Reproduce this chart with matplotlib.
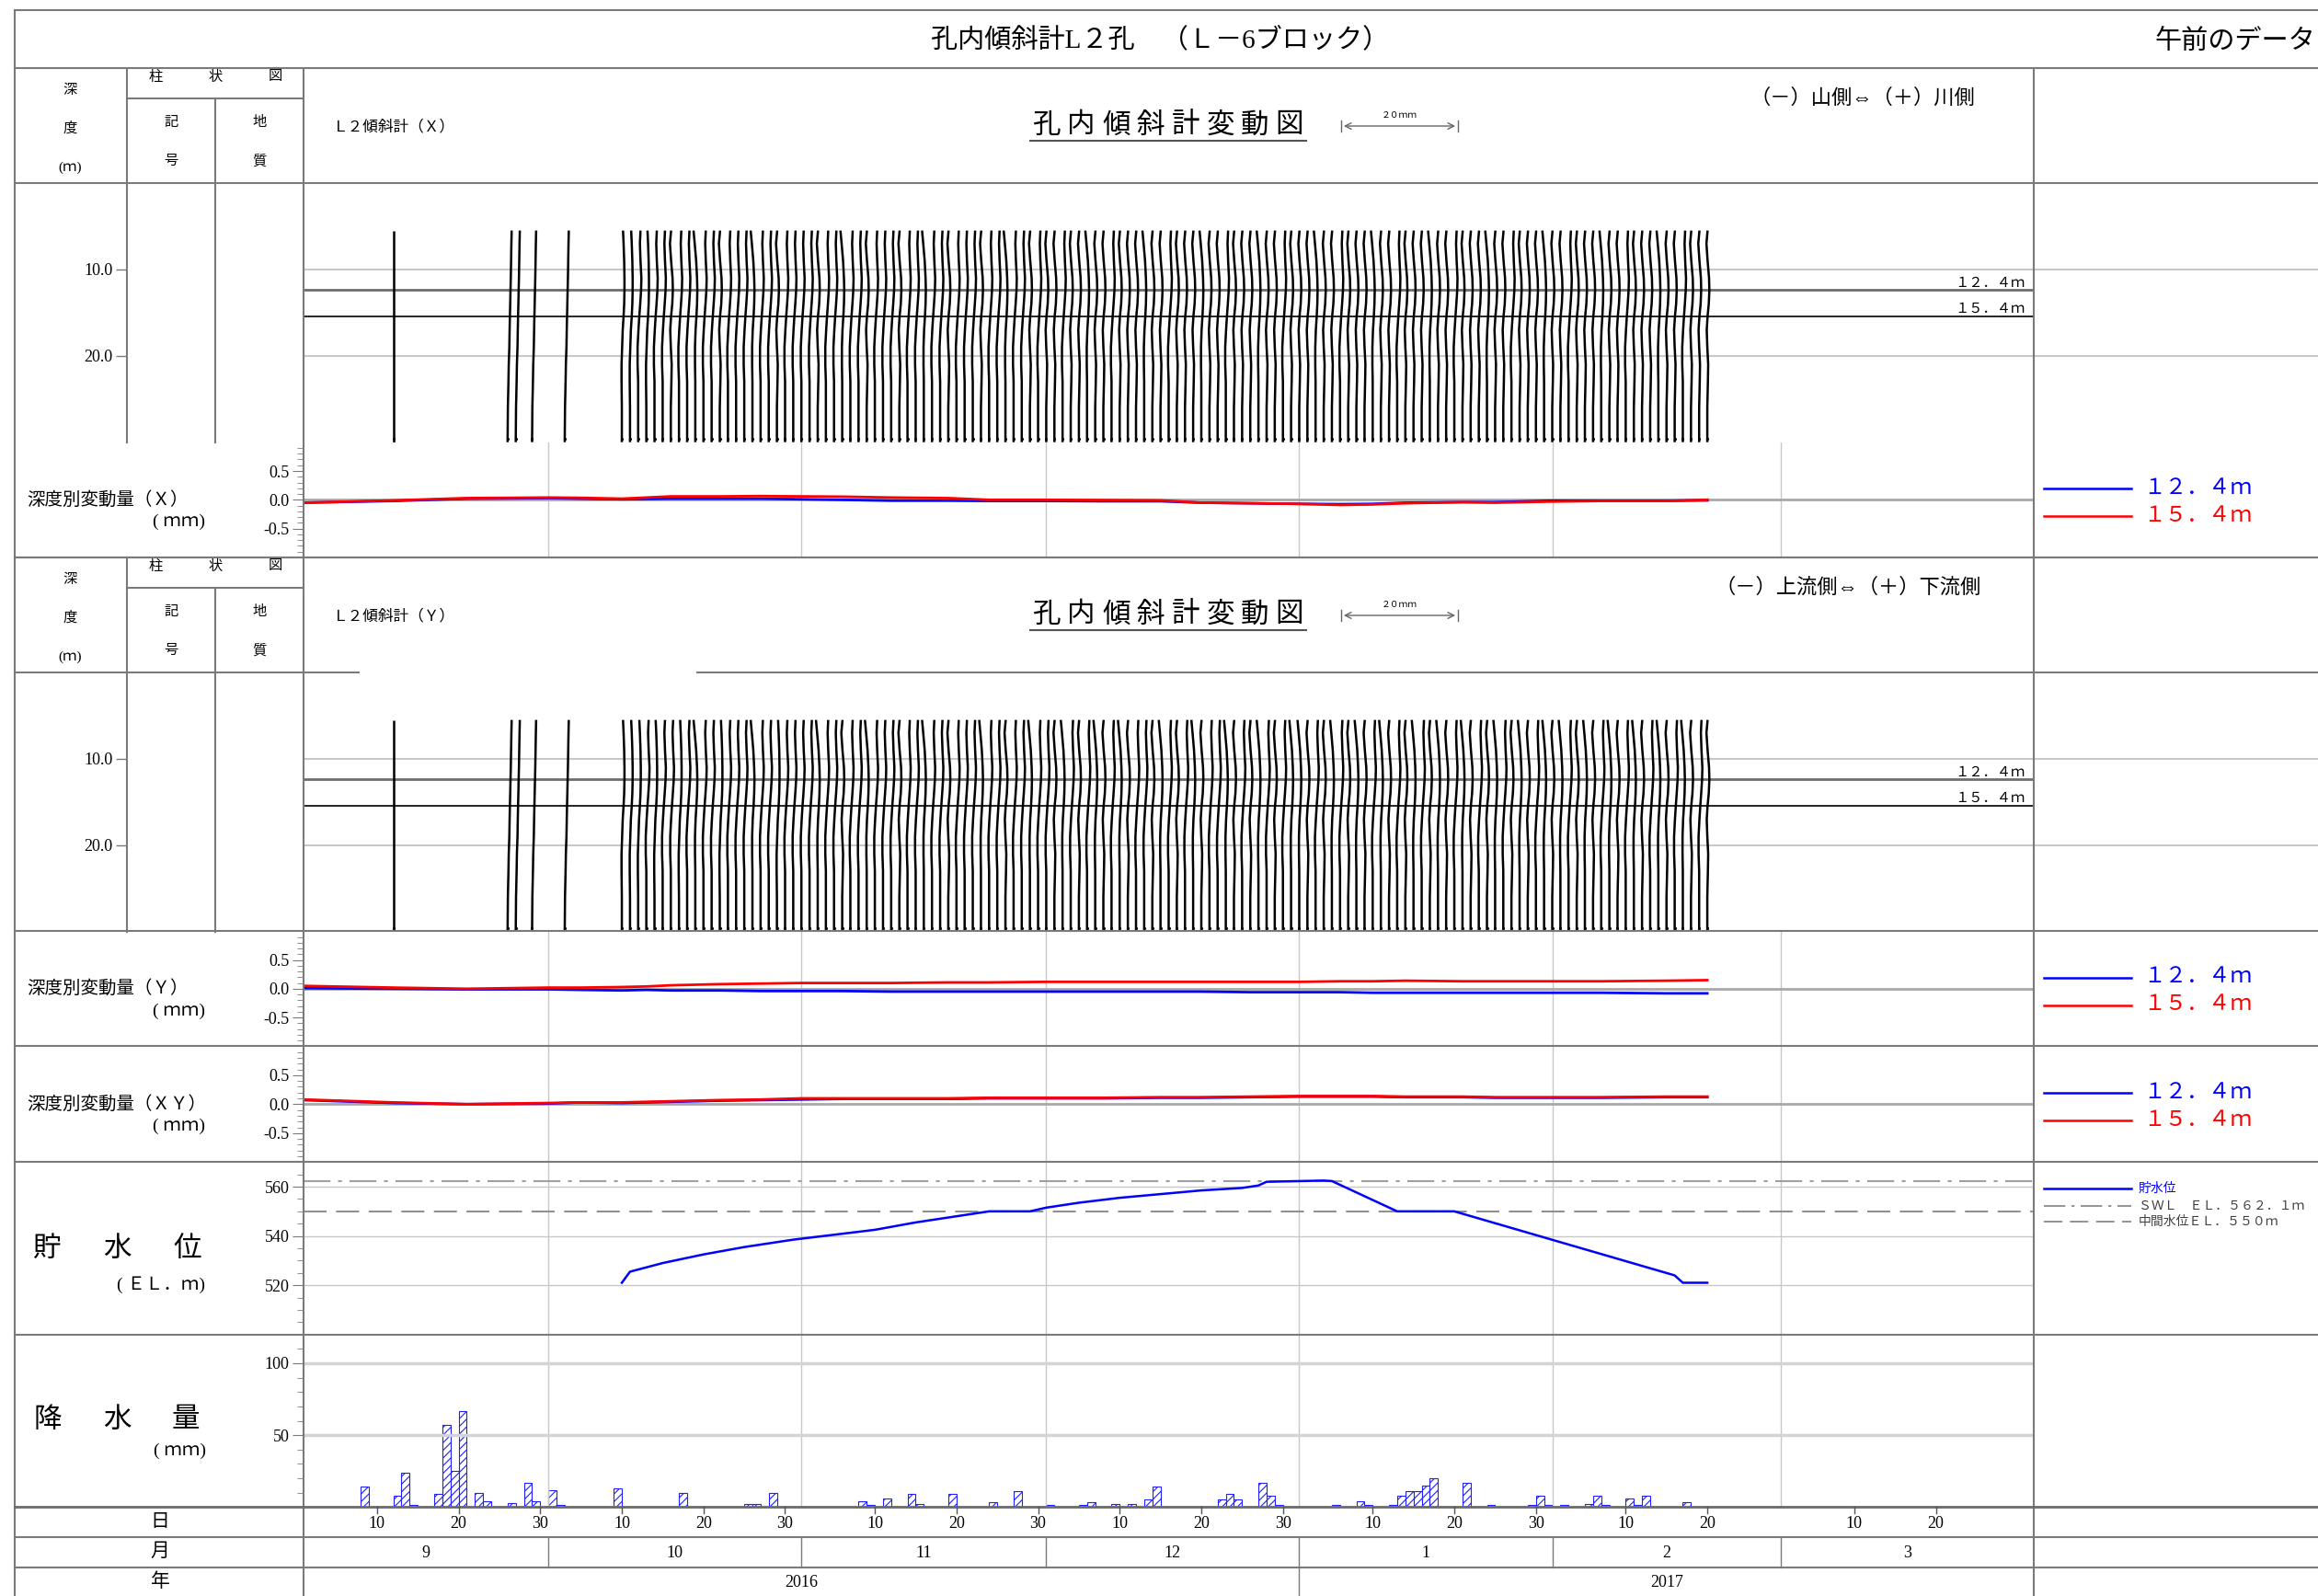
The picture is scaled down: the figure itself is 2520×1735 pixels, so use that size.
import matplotlib
matplotlib.use('Agg')
import matplotlib.pyplot as plt
import matplotlib.dates as mdates
import matplotlib.transforms as mtransforms
from matplotlib.lines import Line2D
from matplotlib.patches import FancyArrowPatch
import numpy as np
import pandas as pd

plt.rcParams['font.family'] = ['Liberation Serif', 'Noto Sans CJK JP', 'DejaVu Sans']
plt.rcParams['hatch.linewidth'] = 0.8

# ---------------- data ----------------
depth_nodes = [5.5, 7.0, 9.0, 11.0, 12.4, 14.0, 15.4, 17.0, 19.0, 21.0, 23.0, 26.0, 30.0]

# profile shapes (mm offsets at each depth node)
shapes = {
    'O': [0.0, 0.0, 0.0, 0.0, 0.0, 0.0, 0.0, 0.0, 0.0, 0.0, 0.0, 0.0, 0.0],
    'L': [0.7, 0.65, 0.6, 0.55, 0.5, 0.45, 0.4, 0.35, 0.3, 0.2, 0.15, 0.05, 0.0],
    'A': [0.2, 0.3, 0.4, 0.45, 0.45, 0.4, 0.3, 0.15, 0.05, -0.05, -0.05, 0.0, 0.0],
    'B': [0.4, 0.3, 0.4, 0.55, 0.5, 0.35, 0.2, 0.05, -0.1, -0.1, 0.0, 0.0, 0.0],
    'C': [0.05, -0.15, 0.05, 0.3, 0.35, 0.25, 0.05, -0.1, 0.0, 0.15, 0.1, 0.0, 0.0],
    'D': [-0.3, -0.1, 0.15, 0.3, 0.35, 0.3, 0.2, 0.05, -0.05, -0.05, 0.0, 0.0, 0.0],
}

early_dates = ['2016-09-12', '2016-09-26', '2016-09-27', '2016-09-29', '2016-10-03']
daily_dates = pd.date_range('2016-10-10', '2017-02-20', freq='D')
profile_dates = list(pd.to_datetime(early_dates)) + list(daily_dates)

x_shape_seq = ("OLLLL"
               "AABABBCBBDBBCBBBDBBCBB"
               "BBCBBDBBCBBBCBBDBBCBBBCBBDBBCB"
               "CCBCCDCCBCCCDCCBCCCDCCBCCCDCCBC"
               "CCDCCBCCCDCCBCCCDCCBCCCDCCBCCCD"
               "CCBCCCDCCBCCCDCCBCCC")
y_shape_seq = ("OLLLL"
               "AAABABBABDBBABBBDBBABB"
               "BBDBBCBBDBBBCBBDBBCBBBDBBCBBDB"
               "BCDBCBDCBDCBBCDBCBDCBBDCBCDBCBD"
               "DCBCDBCDCBDCBCDBCDCBDCBCDBCDCBD"
               "CDBCDCBDCBDCBDCBDCBC")

# depth-wise displacement time series (mm)
ts_dates = ['2016-09-01', '2016-09-12', '2016-09-21', '2016-10-01', '2016-10-05', '2016-10-10',
            '2016-10-13', '2016-10-16', '2016-10-22', '2016-10-27', '2016-11-01', '2016-11-06',
            '2016-11-12', '2016-11-19', '2016-11-24', '2016-12-01', '2016-12-08', '2016-12-15',
            '2016-12-20', '2016-12-26', '2017-01-01', '2017-01-06', '2017-01-10', '2017-01-14',
            '2017-01-21', '2017-01-25', '2017-02-01', '2017-02-07', '2017-02-15', '2017-02-20']
x_12 = [-0.05, -0.02, 0.02, 0.03, 0.02, 0.01, 0.015, 0.02, 0.02, 0.02, 0.01, 0.0,
        -0.015, -0.015, -0.02, -0.02, -0.025, -0.025, -0.05, -0.06, -0.07, -0.075, -0.07, -0.05,
        -0.04, -0.04, -0.015, -0.015, -0.015, -0.01]
x_15 = [-0.05, -0.01, 0.03, 0.04, 0.035, 0.02, 0.04, 0.06, 0.06, 0.065, 0.06, 0.055,
        0.04, 0.03, 0.0, 0.0, -0.005, -0.01, -0.05, -0.06, -0.07, -0.09, -0.08, -0.06,
        -0.04, -0.05, -0.03, -0.02, -0.02, 0.0]
y_12 = [0.01, 0.0, -0.01, -0.01, -0.02, -0.03, -0.02, -0.03, -0.03, -0.04, -0.04, -0.04,
        -0.05, -0.05, -0.05, -0.05, -0.05, -0.05, -0.05, -0.06, -0.06, -0.06, -0.07, -0.07,
        -0.07, -0.07, -0.07, -0.07, -0.08, -0.08]
y_15 = [0.05, 0.02, 0.0, 0.02, 0.02, 0.03, 0.04, 0.06, 0.08, 0.09, 0.10, 0.10,
        0.10, 0.11, 0.11, 0.12, 0.12, 0.12, 0.12, 0.12, 0.12, 0.13, 0.13, 0.14,
        0.13, 0.13, 0.13, 0.13, 0.14, 0.15]
xy_12 = [0.07, 0.02, 0.0, 0.01, 0.03, 0.02, 0.03, 0.04, 0.06, 0.07, 0.08, 0.09,
         0.09, 0.09, 0.10, 0.10, 0.10, 0.11, 0.11, 0.12, 0.13, 0.13, 0.13, 0.12,
         0.12, 0.11, 0.11, 0.11, 0.12, 0.12]
xy_15 = [0.08, 0.03, 0.0, 0.02, 0.03, 0.03, 0.04, 0.05, 0.07, 0.08, 0.10, 0.10,
         0.10, 0.10, 0.11, 0.11, 0.11, 0.12, 0.12, 0.13, 0.14, 0.14, 0.14, 0.13,
         0.13, 0.12, 0.12, 0.12, 0.13, 0.13]

# reservoir water level (EL.m)
wl_dates = ['2016-10-10', '2016-10-11', '2016-10-15', '2016-10-20', '2016-10-25', '2016-10-31',
            '2016-11-05', '2016-11-10', '2016-11-15', '2016-11-20', '2016-11-24', '2016-11-29',
            '2016-12-01', '2016-12-05', '2016-12-10', '2016-12-15', '2016-12-20', '2016-12-25',
            '2016-12-27', '2016-12-28', '2017-01-04', '2017-01-05', '2017-01-13', '2017-01-20',
            '2017-02-16', '2017-02-17', '2017-02-20']
wl_vals = [521.0, 525.5, 529.0, 532.5, 535.5, 538.5, 540.5, 542.5, 545.5, 548.0, 550.0, 550.0,
           551.5, 553.5, 555.5, 557.0, 558.5, 559.5, 560.5, 562.0, 562.5, 562.3, 550.0, 550.0,
           524.0, 521.0, 521.0]
swl = 562.1
mid_wl = 550.0

# daily rainfall (mm)
rain_dates = ['2016-09-08', '2016-09-12', '2016-09-13', '2016-09-14', '2016-09-17', '2016-09-18',
              '2016-09-19', '2016-09-20', '2016-09-22', '2016-09-23', '2016-09-26', '2016-09-28',
              '2016-09-29', '2016-10-01', '2016-10-02', '2016-10-09', '2016-10-17', '2016-10-25',
              '2016-10-26', '2016-10-28', '2016-11-08', '2016-11-09', '2016-11-11', '2016-11-14',
              '2016-11-15', '2016-11-19', '2016-11-24', '2016-11-27', '2016-12-01', '2016-12-05',
              '2016-12-06', '2016-12-09', '2016-12-11', '2016-12-13', '2016-12-14', '2016-12-22',
              '2016-12-23', '2016-12-24', '2016-12-27', '2016-12-28', '2016-12-29', '2017-01-05',
              '2017-01-08', '2017-01-09', '2017-01-12', '2017-01-13', '2017-01-14', '2017-01-15',
              '2017-01-16', '2017-01-17', '2017-01-21', '2017-01-24', '2017-01-29', '2017-01-30',
              '2017-01-31', '2017-02-02', '2017-02-05', '2017-02-06', '2017-02-07', '2017-02-10',
              '2017-02-11', '2017-02-12', '2017-02-17']
rain_vals = [14, 8, 24, 1.5, 9, 57, 25, 67, 10, 4, 3, 17,
             4, 12, 1.5, 13, 10, 2, 2, 10, 4, 1.5, 6, 9,
             2, 9, 3.5, 11, 1.5, 1.5, 3.5, 2, 2, 5.5, 14, 5.3,
             9, 5.3, 17, 8, 1.5, 1.5, 4, 1.5, 1.5, 8, 11, 11,
             15, 20, 17, 1.5, 1.5, 8, 1.5, 1.5, 2, 8, 1.5, 6,
             1.5, 8, 3.5]

month_starts = ['2016-09-01', '2016-10-01', '2016-11-01', '2016-12-01', '2017-01-01',
                '2017-02-01', '2017-03-01', '2017-04-01']
month_labels = ['9', '10', '11', '12', '1', '2', '3']
day_ticks = ['2016-09-10', '2016-09-20', '2016-09-30', '2016-10-10', '2016-10-20', '2016-10-30',
             '2016-11-10', '2016-11-20', '2016-11-30', '2016-12-10', '2016-12-20', '2016-12-30',
             '2017-01-10', '2017-01-20', '2017-01-30', '2017-02-10', '2017-02-20',
             '2017-03-10', '2017-03-20']
year_bounds = ['2016-09-01', '2017-01-01', '2017-04-01']
year_labels = ['2016', '2017']

# ---------------- layout helpers ----------------
W, H = 2520, 1735
fig = plt.figure(figsize=(W / 100, H / 100), dpi=100)
fig.patch.set_facecolor('white')

FRAME = '#7a7a7a'
LIGHT = '#c8c8c8'


def fx(x):
    return x / W


def fy(y):
    return 1 - y / H


def hline(y, x0, x1, color=FRAME, lw=1.5, **kw):
    fig.add_artist(Line2D([fx(x0), fx(x1)], [fy(y), fy(y)], transform=fig.transFigure,
                          color=color, lw=lw, **kw))


def vline(x, y0, y1, color=FRAME, lw=1.5):
    fig.add_artist(Line2D([fx(x), fx(x)], [fy(y0), fy(y1)], transform=fig.transFigure,
                          color=color, lw=lw))


def text(x, y, s, size=12, ha='center', va='center', **kw):
    fig.text(fx(x), fy(y), s, fontsize=size, ha=ha, va=va, **kw)


def spaced(chars, c0, c1, y, size, **kw):
    n = len(chars)
    for i, c in enumerate(chars):
        text(c0 + (c1 - c0) * i / (n - 1), y, c, size=size, **kw)


def add_ax(x0, y0, x1, y1):
    ax = fig.add_axes([fx(x0), fy(y1), (x1 - x0) / W, (y1 - y0) / H])
    ax.patch.set_alpha(0)
    for s in ax.spines.values():
        s.set_visible(False)
    return ax


def dn(s):
    return mdates.date2num(pd.Timestamp(s))


X0, X1 = 330, 2211
XLIM = (dn('2016-09-01'), dn('2017-04-01'))
MM_TO_DAY = 14.3 / 20.0

# ---------------- frame ----------------
hline(11, 16, W)
hline(74, 16, W)
vline(16, 11, H)
vline(X0, 74, H)
vline(X1, 74, H)

text(1261, 43, '孔内傾斜計L２孔　（Ｌ－6ブロック）', size=21)
text(2517, 45, '午前のデータ', size=21, ha='right')


def block(top, name, side_text, side_x, gap=None):
    # header row of one inclinometer block
    if gap is None:
        hline(top + 125, 16, W)
    else:
        hline(top + 125, 16, gap[0])
        hline(top + 125, gap[1], W)
    hline(top + 33, 138, X0)
    vline(138, top, top + 406.7)
    vline(234, top + 33, top + 406.7)
    text(76, top + 24, '深', size=11)
    text(76, top + 65, '度', size=11)
    text(76, top + 108, '(ｍ)', size=11)
    spaced('柱状図', 169, 299, top + 10, 11)
    text(186, top + 59, '記', size=11)
    text(186, top + 101, '号', size=11)
    text(282, top + 59, '地', size=11)
    text(282, top + 101, '質', size=11)
    text(362, top + 64, name, size=12, ha='left')
    spaced('孔内傾斜計変動図', 1138, 1402, top + 63, 22)
    hline(top + 79, 1120, 1420, color='#555555', lw=1.5)
    fig.add_artist(FancyArrowPatch((fx(1458), fy(top + 63)), (fx(1585), fy(top + 63)),
                                   transform=fig.transFigure, arrowstyle='<->',
                                   mutation_scale=12, color='#666666', lw=1))
    vline(1458, top + 57, top + 69, color='#666666', lw=1)
    vline(1585, top + 57, top + 69, color='#666666', lw=1)
    text(1521, top + 51, '２０ｍｍ', size=7)
    text(side_x, top + 33, side_text, size=16)


block(74, 'Ｌ２傾斜計（Ｘ）', '（－）山側⇔（＋）川側', 2025)
block(606, 'Ｌ２傾斜計（Ｙ）', '（－）上流側⇔（＋）下流側', 2009, gap=(390, 758))
hline(606, 16, W)
hline(1012.4, 16, W)


def profile_panel(top, seq):
    ax = add_ax(X0, top + 125, X1, top + 406.7)
    ax.set_xlim(*XLIM)
    ax.set_ylim(30, 0)
    ax.set_xticks([])
    ax.set_yticks([])
    for d in (10, 20):
        ax.axhline(d, xmin=0, xmax=(W - X0) / (X1 - X0), color=LIGHT, lw=1.5, clip_on=False)
    ax.axhline(12.4, color='#6e6e6e', lw=2)
    ax.axhline(15.4, color='black', lw=1.2)
    ax.text(0.995, 12.3, '１２．４ｍ', transform=ax.get_yaxis_transform(), ha='right',
            va='bottom', fontsize=11)
    ax.text(0.995, 15.3, '１５．４ｍ', transform=ax.get_yaxis_transform(), ha='right',
            va='bottom', fontsize=11)
    for d, code in zip(profile_dates, seq):
        xs = dn(d) + np.array(shapes[code]) * MM_TO_DAY
        ax.plot(xs, depth_nodes, color='black', lw=1.8, solid_capstyle='butt')
        ax.plot([xs[-1]], [29.6], marker='.', ms=2.5, color='black', clip_on=False)
    # depth scale in the 深度 column
    dax = add_ax(138, top + 125, 234, top + 406.7)
    dax.set_ylim(30, 0)
    dax.set_xticks([])
    dax.set_yticks([10, 20])
    dax.set_yticklabels(['10.0', '20.0'], fontsize=13)
    dax.tick_params(axis='y', direction='out', length=9, width=1, color=FRAME, pad=2)
    return ax


profile_panel(74, x_shape_seq)
profile_panel(606, y_shape_seq)

ts_dt = pd.to_datetime(ts_dates)
month_dt = pd.to_datetime(month_starts)


def ts_panel(top, bottom, s12, s15, label):
    hline(bottom, 16, W)
    ax = add_ax(X0, top, X1, bottom)
    ax.set_xlim(*XLIM)
    ax.set_ylim(-1, 1)
    for m in month_dt[1:-1]:
        ax.axvline(m, color=LIGHT, lw=1)
    ax.axhline(0, color='#a8a8a8', lw=2)
    ax.plot(ts_dt, s12, color='#0000ff', lw=2)
    ax.plot(ts_dt, s15, color='#ff0000', lw=2)
    ax.set_xticks([])
    ax.set_yticks([-0.5, 0.0, 0.5])
    ax.set_yticklabels(['-0.5', '0.0', '0.5'], fontsize=13)
    ax.set_yticks(np.arange(-0.9, 1.0, 0.1), minor=True)
    ax.tick_params(axis='y', which='major', direction='out', length=9, color=FRAME, pad=2)
    ax.tick_params(axis='y', which='minor', direction='out', length=5, color=FRAME)
    mid = (top + bottom) / 2
    text(29, mid, '深度別変動量（' + label + '）', size=14, ha='left')
    text(223, mid + 24, '( ｍｍ)', size=14, ha='right')
    # legend in the right column
    hline(mid - 12, 2222, 2317, color='#0000ff', lw=1.8)
    hline(mid + 18, 2222, 2317, color='#ff0000', lw=1.8)
    text(2330, mid - 12, '１２．４ｍ', size=17, ha='left', color='#0000ff')
    text(2330, mid + 18, '１５．４ｍ', size=17, ha='left', color='#ff0000')
    return ax


ts_panel(480.7, 606, x_12, x_15, 'Ｘ')
ts_panel(1012.4, 1137.3, y_12, y_15, 'Ｙ')
ts_panel(1137.3, 1263.3, xy_12, xy_15, 'ＸＹ')

# water level
hline(1450.7, 16, W)
axw = add_ax(X0, 1263.3, X1, 1450.7)
axw.set_xlim(*XLIM)
axw.set_ylim(500, 570)
for m in month_dt[1:-1]:
    axw.axvline(m, color=LIGHT, lw=1)
for v in (520, 540, 560):
    axw.axhline(v, color=LIGHT, lw=1)
axw.axhline(swl, color='#a0a0a0', lw=1.5, dashes=(14, 4, 2, 4))
axw.axhline(mid_wl, color='#909090', lw=1.5, dashes=(12, 5))
axw.plot(pd.to_datetime(wl_dates), wl_vals, color='#0000ff', lw=1.8)
axw.set_xticks([])
axw.set_yticks([520, 540, 560])
axw.set_yticklabels(['520', '540', '560'], fontsize=13)
axw.set_yticks(np.arange(505, 570, 5), minor=True)
axw.tick_params(axis='y', which='major', direction='out', length=9, color=FRAME, pad=2)
axw.tick_params(axis='y', which='minor', direction='out', length=5, color=FRAME)
spaced('貯水位', 51, 204, 1358, 22)
text(223, 1397, '( ＥＬ．ｍ)', size=14, ha='right')
hline(1292, 2222, 2317, color='#0000ff', lw=1.8)
text(2325, 1292, '貯水位', size=10, ha='left', color='#0000ff')
fig.add_artist(Line2D([fx(2222), fx(2317)], [fy(1311)] * 2, transform=fig.transFigure,
                      color='#808080', lw=1.2, dashes=(14, 4, 2, 4)))
text(2325, 1311, 'ＳＷＬ　ＥＬ．５６２．１ｍ', size=10, ha='left', color='#404040')
fig.add_artist(Line2D([fx(2222), fx(2317)], [fy(1328)] * 2, transform=fig.transFigure,
                      color='#808080', lw=1.2, dashes=(12, 5)))
text(2325, 1328, '中間水位ＥＬ．５５０ｍ', size=10, ha='left', color='#404040')

# rainfall
hline(1638.3, 16, W, color='#6a6a6a', lw=2)
axr = add_ax(X0, 1450.7, X1, 1638.3)
axr.set_xlim(*XLIM)
axr.set_ylim(0, 120)
for m in month_dt[1:-1]:
    axr.axvline(m, color=LIGHT, lw=1)
for v in (50, 100):
    axr.axhline(v, color='#d4d4d4', lw=2.5)
axr.bar(pd.to_datetime(rain_dates), rain_vals, width=1.0, align='edge', facecolor='white',
        edgecolor='#2020ff', hatch='////', lw=0.8)
axr.set_xticks([])
axr.set_yticks([50, 100])
axr.set_yticklabels(['50', '100'], fontsize=13)
axr.set_yticks(np.arange(10, 120, 10), minor=True)
axr.tick_params(axis='y', which='major', direction='out', length=9, color=FRAME, pad=2)
axr.tick_params(axis='y', which='minor', direction='out', length=5, color=FRAME)
spaced('降水量', 52, 202, 1544, 22)
text(224, 1577, '( ｍｍ)', size=14, ha='right')

# date rows
hline(1671, 16, W)
hline(1704.3, 16, W)
text(174, 1655, '日', size=15)
text(174, 1687, '月', size=15)
text(174, 1720, '年', size=15)
bt = mtransforms.blended_transform_factory(axr.transData, fig.transFigure)
for d in pd.to_datetime(day_ticks):
    fig.add_artist(Line2D([dn(d), dn(d)], [fy(1638.3), fy(1645)], transform=bt,
                          color='#555555', lw=1))
    fig.text(dn(d), fy(1656), str(d.day), transform=bt, ha='center', va='center', fontsize=13)
for i, lab in enumerate(month_labels):
    a, b = dn(month_dt[i]), dn(month_dt[i + 1])
    fig.text((a + b) / 2, fy(1688), lab, transform=bt, ha='center', va='center', fontsize=13)
    if i > 0:
        fig.add_artist(Line2D([a, a], [fy(1671), fy(1704.3)], transform=bt, color=FRAME, lw=1))
yb = pd.to_datetime(year_bounds)
for i, lab in enumerate(year_labels):
    a, b = dn(yb[i]), dn(yb[i + 1])
    fig.text((a + b) / 2, fy(1720), lab, transform=bt, ha='center', va='center', fontsize=13)
    if i > 0:
        fig.add_artist(Line2D([a, a], [fy(1704.3), fy(H)], transform=bt, color=FRAME, lw=1))

fig.savefig('out.png', dpi=100)
